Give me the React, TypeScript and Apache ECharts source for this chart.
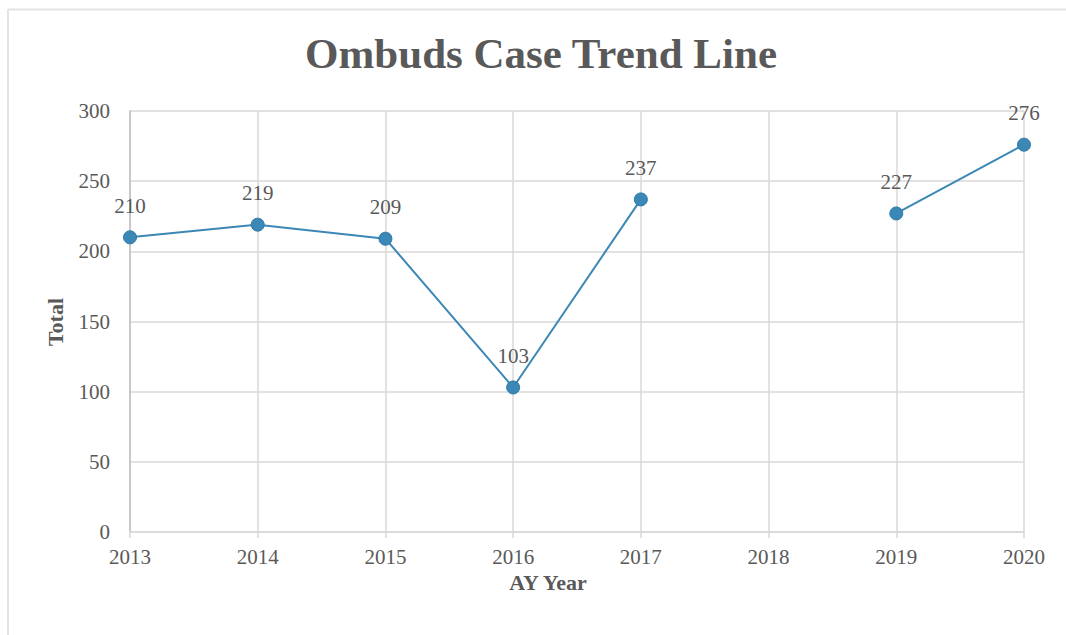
import React, { useEffect, useRef } from "react";
import * as echarts from "echarts";

const years = ["2013", "2014", "2015", "2016", "2017", "2018", "2019", "2020"];
const totals: (number | null)[] = [210, 219, 209, 103, 237, null, 227, 276];
const yTicks = { min: 0, max: 300, interval: 50 };

const FONT = "'Liberation Serif', 'DejaVu Serif', serif";
const GRAY = "#595959";
const LINE = "#3b87b5";

export default function App() {
  const ref = useRef<HTMLDivElement>(null);
  useEffect(() => {
    if (!ref.current) return;
    const chart = echarts.init(ref.current, undefined, { renderer: "svg" });
    chart.setOption({
      animation: false,
      backgroundColor: "#ffffff",
      graphic: [
        { type: "line", shape: { x1: 8, y1: 9.5, x2: 1066, y2: 9.5 }, style: { stroke: "#e3e3e3", lineWidth: 2 } },
        { type: "line", shape: { x1: 8, y1: 9.5, x2: 8, y2: 635 }, style: { stroke: "#e3e3e3", lineWidth: 2 } },
        {
          type: "text",
          x: 541,
          y: 53,
          style: { text: "Ombuds Case Trend Line", fontFamily: FONT, fontSize: 43, fontWeight: "bold", fill: GRAY, align: "center", verticalAlign: "middle" },
        },
        {
          type: "text",
          x: 548,
          y: 582,
          style: { text: "AY Year", fontFamily: FONT, fontSize: 22, fontWeight: "bold", fill: GRAY, align: "center", verticalAlign: "middle" },
        },
        {
          type: "text",
          x: 55,
          y: 322,
          rotation: Math.PI / 2,
          style: { text: "Total", fontFamily: FONT, fontSize: 22, fontWeight: "bold", fill: GRAY, align: "center", verticalAlign: "middle" },
        },
      ],
      grid: { left: 130, right: 42, top: 111, bottom: 103, containLabel: false },
      xAxis: {
        type: "category",
        data: years,
        boundaryGap: false,
        axisLine: { show: true, lineStyle: { color: "#d9d9d9", width: 1.5 } },
        axisTick: { show: true, length: 6, alignWithLabel: true, lineStyle: { color: "#d9d9d9", width: 1.5 } },
        splitLine: { show: true, lineStyle: { color: "#d9d9d9", width: 1.5 } },
        axisLabel: { fontFamily: FONT, fontSize: 21, color: GRAY, margin: 14 },
      },
      yAxis: {
        type: "value",
        min: yTicks.min,
        max: yTicks.max,
        interval: yTicks.interval,
        axisLine: { show: true, lineStyle: { color: "#bfbfbf", width: 1.5 } },
        axisTick: { show: false },
        splitLine: { show: true, lineStyle: { color: "#d9d9d9", width: 1.5 } },
        axisLabel: { fontFamily: FONT, fontSize: 21, color: GRAY, margin: 20 },
      },
      series: [
        {
          type: "line",
          data: totals,
          connectNulls: false,
          symbol: "circle",
          symbolSize: 13,
          lineStyle: { color: LINE, width: 2 },
          itemStyle: { color: LINE, borderColor: "#2f7aa8", borderWidth: 1 },
          label: { show: true, position: "top", distance: 14, fontFamily: FONT, fontSize: 21, color: GRAY },
        },
      ],
    });
    return () => chart.dispose();
  }, []);
  return (
    <div
      ref={ref}
      style={{ position: "fixed", left: 0, top: 0, width: 1066, height: 635 }}
    />
  );
}
